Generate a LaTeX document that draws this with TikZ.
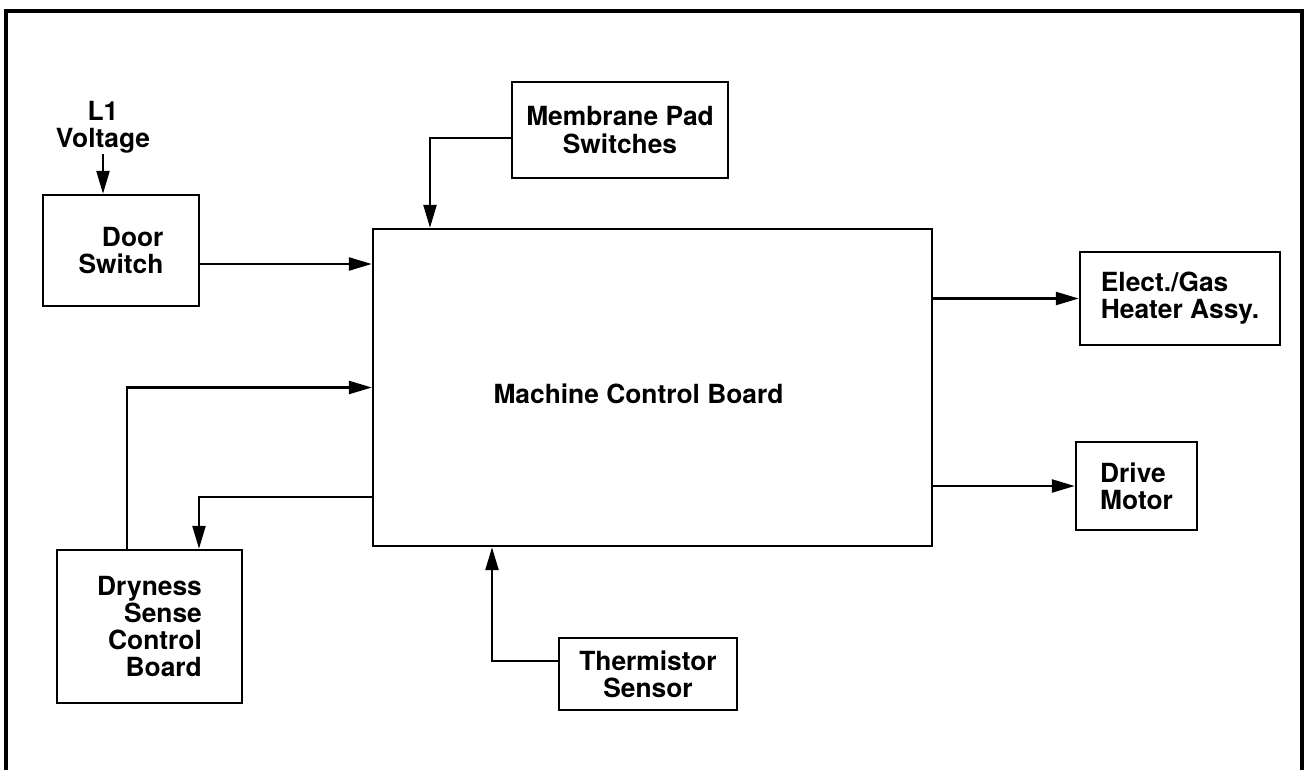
\documentclass[tikz,border=0pt]{standalone}
\usepackage{fontspec}
\setmainfont{TeX Gyre Heros}
\usepackage{tikz}
\usetikzlibrary{arrows.meta, positioning, calc}
\newcommand{\diagfont}{\fontsize{15}{15.5}\selectfont\bfseries}
\tikzset{
  box/.style={rectangle, draw=black, line width=1.4pt, font=\diagfont,
    inner sep=0pt},
  lbl/.style={font=\diagfont, inner sep=0pt},
  arrow/.style={-{Triangle[length=0.46cm, width=0.26cm]}, line width=1.4pt},
  frame/.style={line width=2.2pt}
}

\begin{document}
\begin{tikzpicture}[x=0.02cm, y=-0.02cm]
  \useasboundingbox (0,0) rectangle (1308,770);
  % outer frame, open at the bottom
  \draw[frame] (6,770) -- (6,11) -- (1302,11) -- (1302,770);
  % main board
  \node[box, minimum width=11.18cm, minimum height=6.34cm] (mcb) at (652.5,387.5) {};
  \node[lbl] (mcbtext) at (638.5,394) {Machine Control Board};
  % inputs
  \node[lbl, align=center, anchor=north] (l1) at (103,101) {L1\\Voltage};
  \node[box, align=right, minimum width=3.12cm, minimum height=2.22cm] (door) at (121,250.5) {Door\\Switch};
  \node[box, align=center, minimum width=4.32cm, minimum height=1.92cm] (membrane) at (620,130) {Membrane Pad\\Switches};
  \node[box, align=right, minimum width=3.7cm, minimum height=3.06cm] (dryness) at (149.5,626.5) {Dryness\\Sense\\Control\\Board};
  \node[box, align=center, minimum width=3.56cm, minimum height=1.44cm] (thermistor) at (648,674) {Thermistor\\Sensor};
  % outputs
  \node[box, align=left, minimum width=4cm, minimum height=1.86cm] (heater) at (1180,298.5) {Elect./Gas\\Heater Assy.};
  \node[box, align=left, minimum width=2.42cm, minimum height=1.76cm] (motor) at (1136.5,486) {Drive\\Motor};
  % connectors
  \draw[arrow] (l1.south) -- (l1.south |- door.north);
  \draw[arrow] (door.east |- 0,264) -- (mcb.west |- 0,264);
  \draw[arrow] (membrane.west |- 0,138) -| (mcb.north -| 430,0);
  \draw[arrow] (dryness.north -| 127,0) |- (mcb.west);
  \draw[arrow] (mcb.west |- 0,497) -| (dryness.north -| 199,0);
  \draw[arrow] (thermistor.west |- 0,661) -| (mcb.south -| 492,0);
  \draw[arrow] (mcb.east |- heater.west) -- (heater.west);
  \draw[arrow] (mcb.east |- motor.west) -- (motor.west);
\end{tikzpicture}
\end{document}
